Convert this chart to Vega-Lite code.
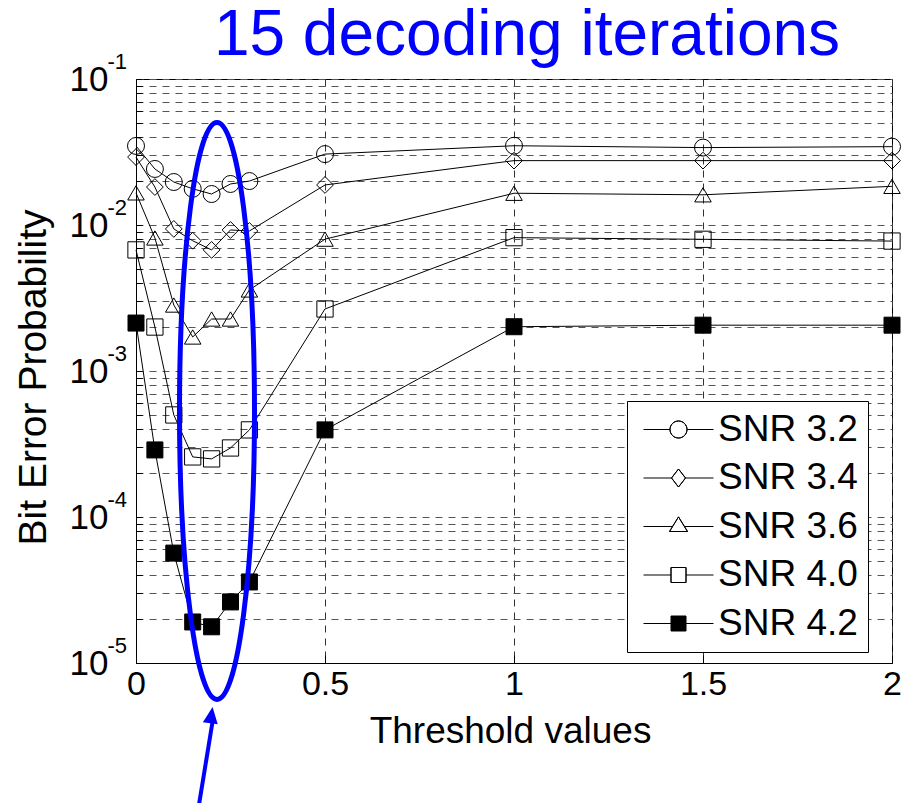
{
  "$schema": "https://vega.github.io/schema/vega-lite/v6.json",
  "width": 756,
  "height": 584,
  "autosize": {"type": "none"},
  "padding": {"left": 136, "top": 79, "right": 10, "bottom": 140},
  "background": "white",
  "config": {
    "view": {"stroke": "black", "strokeWidth": 1},
    "font": "Liberation Sans"
  },
  "title": {
    "text": "15 decoding iterations",
    "color": "#0000FF",
    "fontSize": 64,
    "font": "Liberation Sans",
    "fontWeight": "normal",
    "anchor": "middle",
    "offset": 8,
    "dy": 25,
    "dx": 13
  },
  "resolve": {"scale": {"shape": "independent"}},
  "datasets": {
    "ber": [
      {"series": "SNR 3.2", "x": 0, "y": 0.0348},
      {"series": "SNR 3.2", "x": 0.05, "y": 0.0242},
      {"series": "SNR 3.2", "x": 0.1, "y": 0.0197},
      {"series": "SNR 3.2", "x": 0.15, "y": 0.0177},
      {"series": "SNR 3.2", "x": 0.2, "y": 0.0163},
      {"series": "SNR 3.2", "x": 0.25, "y": 0.0191},
      {"series": "SNR 3.2", "x": 0.3, "y": 0.02},
      {"series": "SNR 3.2", "x": 0.5, "y": 0.0306},
      {"series": "SNR 3.2", "x": 1, "y": 0.0349},
      {"series": "SNR 3.2", "x": 1.5, "y": 0.0339},
      {"series": "SNR 3.2", "x": 2, "y": 0.0344},
      {"series": "SNR 3.4", "x": 0, "y": 0.0292},
      {"series": "SNR 3.4", "x": 0.05, "y": 0.0182},
      {"series": "SNR 3.4", "x": 0.1, "y": 0.0094},
      {"series": "SNR 3.4", "x": 0.15, "y": 0.0078},
      {"series": "SNR 3.4", "x": 0.2, "y": 0.00675},
      {"series": "SNR 3.4", "x": 0.25, "y": 0.00925},
      {"series": "SNR 3.4", "x": 0.3, "y": 0.0091},
      {"series": "SNR 3.4", "x": 0.5, "y": 0.0188},
      {"series": "SNR 3.4", "x": 1, "y": 0.0276},
      {"series": "SNR 3.4", "x": 1.5, "y": 0.0276},
      {"series": "SNR 3.4", "x": 2, "y": 0.0276},
      {"series": "SNR 3.6", "x": 0, "y": 0.0166},
      {"series": "SNR 3.6", "x": 0.05, "y": 0.00815},
      {"series": "SNR 3.6", "x": 0.1, "y": 0.00283},
      {"series": "SNR 3.6", "x": 0.15, "y": 0.00171},
      {"series": "SNR 3.6", "x": 0.2, "y": 0.00227},
      {"series": "SNR 3.6", "x": 0.25, "y": 0.00227},
      {"series": "SNR 3.6", "x": 0.3, "y": 0.00359},
      {"series": "SNR 3.6", "x": 0.5, "y": 0.008},
      {"series": "SNR 3.6", "x": 1, "y": 0.0165},
      {"series": "SNR 3.6", "x": 1.5, "y": 0.0161},
      {"series": "SNR 3.6", "x": 2, "y": 0.0184},
      {"series": "SNR 4.0", "x": 0, "y": 0.00675},
      {"series": "SNR 4.0", "x": 0.05, "y": 0.002},
      {"series": "SNR 4.0", "x": 0.1, "y": 0.0005},
      {"series": "SNR 4.0", "x": 0.15, "y": 0.000258},
      {"series": "SNR 4.0", "x": 0.2, "y": 0.00025},
      {"series": "SNR 4.0", "x": 0.25, "y": 0.000297},
      {"series": "SNR 4.0", "x": 0.3, "y": 0.000395},
      {"series": "SNR 4.0", "x": 0.5, "y": 0.00266},
      {"series": "SNR 4.0", "x": 1, "y": 0.00819},
      {"series": "SNR 4.0", "x": 1.5, "y": 0.00798},
      {"series": "SNR 4.0", "x": 2, "y": 0.00776},
      {"series": "SNR 4.2", "x": 0, "y": 0.00213},
      {"series": "SNR 4.2", "x": 0.05, "y": 0.000288},
      {"series": "SNR 4.2", "x": 0.1, "y": 0.0000566},
      {"series": "SNR 4.2", "x": 0.15, "y": 0.0000191},
      {"series": "SNR 4.2", "x": 0.2, "y": 0.0000177},
      {"series": "SNR 4.2", "x": 0.25, "y": 0.0000262},
      {"series": "SNR 4.2", "x": 0.3, "y": 0.0000359},
      {"series": "SNR 4.2", "x": 0.5, "y": 0.000395},
      {"series": "SNR 4.2", "x": 1, "y": 0.00201},
      {"series": "SNR 4.2", "x": 1.5, "y": 0.00206},
      {"series": "SNR 4.2", "x": 2, "y": 0.00206}
    ],
    "exponents": [
      {"x": 0, "y": 0.1, "exp": "-1"},
      {"x": 0, "y": 0.01, "exp": "-2"},
      {"x": 0, "y": 0.001, "exp": "-3"},
      {"x": 0, "y": 0.0001, "exp": "-4"},
      {"x": 0, "y": 0.00001, "exp": "-5"}
    ],
    "ellipse": [{"x": 0.2143, "y": 0.000532}],
    "arrow": [{"x": 0.1622, "y": 0.00000091, "x2": 0.2032, "y2": 0.00000407}],
    "arrowhead": [{"x": 0.2026, "y": 0.000005}]
  },
  "layer": [
    {
      "data": {"name": "ber"},
      "mark": {"type": "line", "color": "black", "strokeWidth": 1},
      "encoding": {
        "x": {
          "field": "x", "type": "quantitative",
          "scale": {"domain": [0, 2], "nice": false, "zero": false},
          "axis": {
            "values": [0, 0.5, 1, 1.5, 2],
            "labelExpr": "datum.value == 0 ? '0' : format(datum.value, '~g')",
            "title": "Threshold values",
            "titleFontSize": 37,
            "titleFontWeight": "normal",
            "titleColor": "black",
            "titleFont": "Liberation Sans",
            "titleX": 374,
            "titleY": 79,
            "titleBaseline": "alphabetic",
            "titleAlign": "center",
            "labelFontSize": 34,
            "labelFont": "Liberation Sans",
            "labelColor": "black",
            "labelPadding": 12,
            "labelFlush": false,
            "labelOverlap": false,
            "grid": true,
            "gridDash": [7, 6],
            "gridColor": "#333333",
            "gridWidth": 1,
            "gridOpacity": 1,
            "domainColor": "black",
            "tickColor": "black",
            "tickSize": -8
          }
        },
        "y": {
          "field": "y", "type": "quantitative",
          "scale": {"type": "log", "domain": [0.00001, 0.1], "nice": false},
          "axis": {
            "values": [0.00001, 0.00002, 0.00003, 0.00004, 0.00005, 0.00006, 0.00007, 0.00008, 0.00009,
                       0.0001, 0.0002, 0.0003, 0.0004, 0.0005, 0.0006, 0.0007, 0.0008, 0.0009,
                       0.001, 0.002, 0.003, 0.004, 0.005, 0.006, 0.007, 0.008, 0.009,
                       0.01, 0.02, 0.03, 0.04, 0.05, 0.06, 0.07, 0.08, 0.09, 0.1],
            "labelExpr": "(datum.value == 0.1 || datum.value == 0.01 || datum.value == 0.001 || datum.value == 0.0001 || datum.value == 0.00001) ? '10' : ''",
            "title": "Bit Error Probability",
            "titleFontSize": 39,
            "titleFontWeight": "normal",
            "titleColor": "black",
            "titleFont": "Liberation Sans",
            "titleAngle": -90,
            "titleX": -91,
            "titleY": 298,
            "titleAlign": "center",
            "titleBaseline": "alphabetic",
            "labelFontSize": 35,
            "labelFont": "Liberation Sans",
            "labelColor": "black",
            "labelPadding": 34,
            "labelFlush": false,
            "labelOverlap": false,
            "labelBaseline": "middle",
            "grid": true,
            "gridDash": [7, 6],
            "gridColor": "#555555",
            "gridWidth": 1,
            "gridOpacity": 1,
            "domainColor": "black",
            "tickColor": "black",
            "tickSize": -6
          }
        },
        "detail": {"field": "series", "type": "nominal"}
      }
    },
    {
      "data": {"name": "exponents"},
      "mark": {"type": "text", "align": "right", "baseline": "middle", "dx": -9, "dy": -17, "fontSize": 22, "font": "Liberation Sans", "color": "black"},
      "encoding": {
        "x": {"field": "x", "type": "quantitative"},
        "y": {"field": "y", "type": "quantitative"},
        "text": {"field": "exp"}
      }
    },
    {
      "data": {"name": "ber"},
      "mark": {"type": "point", "stroke": "black", "strokeWidth": 1, "opacity": 1},
      "encoding": {
        "x": {"field": "x", "type": "quantitative"},
        "y": {"field": "y", "type": "quantitative"},
        "shape": {
          "field": "series", "type": "nominal",
          "scale": {
            "domain": ["SNR 3.2", "SNR 3.4", "SNR 3.6", "SNR 4.0", "SNR 4.2"],
            "range": ["circle", "diamond", "triangle-up", "square", "square"]
          },
          "legend": null
        },
        "fill": {
          "field": "series", "type": "nominal",
          "scale": {
            "range": ["transparent", "transparent", "transparent", "transparent", "black"]
          },
          "legend": null
        },
        "size": {
          "field": "series", "type": "nominal",
          "scale": {
            "range": [289, 256, 324, 210, 225]
          },
          "legend": null
        }
      }
    },
    {
      "data": {"name": "ber"},
      "mark": {"type": "point", "filled": false, "color": "black", "stroke": "black", "opacity": 0},
      "encoding": {
        "x": {"field": "x", "type": "quantitative"},
        "y": {"field": "y", "type": "quantitative"},
        "shape": {
          "field": "series", "type": "nominal",
          "scale": {
            "domain": ["SNR 3.2", "SNR 3.4", "SNR 3.6", "SNR 4.0", "SNR 4.2"],
            "range": [
              "M-8.75,0L-2.125,0M2.125,0L8.75,0M-2.125,0C-2.125,-1.1737 -1.1737,-2.125 0,-2.125C1.1737,-2.125 2.125,-1.1737 2.125,0C2.125,1.1737 1.1737,2.125 0,2.125C-1.1737,2.125 -2.125,1.1737 -2.125,0ZM-2.125,0C-2.125,1.1737 -1.1737,2.125 0,2.125C1.1737,2.125 2.125,1.1737 2.125,0C2.125,-1.1737 1.1737,-2.125 0,-2.125C-1.1737,-2.125 -2.125,-1.1737 -2.125,0Z",
              "M-8.75,0L-1.75,0M1.75,0L8.75,0M-1.75,0L0,-2.25L1.75,0L0,2.25ZM-1.75,0L0,2.25L1.75,0L0,-2.25Z",
              "M-8.75,0L-1.48,0M1.48,0L8.75,0M0,-2.4L2.25,1.25L-2.25,1.25ZM0,-2.4L-2.25,1.25L2.25,1.25Z",
              "M-8.75,0L-1.875,0M1.875,0L8.75,0M-1.875,-1.875L1.875,-1.875L1.875,1.875L-1.875,1.875ZM-1.875,-1.875L-1.875,1.875L1.875,1.875L1.875,-1.875Z",
              "M-8.75,0L8.75,0M-1.875,-1.875L1.875,-1.875L1.875,1.875L-1.875,1.875ZM-1.875,-1.75L1.875,-1.75M-1.875,-1.625L1.875,-1.625M-1.875,-1.5L1.875,-1.5M-1.875,-1.375L1.875,-1.375M-1.875,-1.25L1.875,-1.25M-1.875,-1.125L1.875,-1.125M-1.875,-1L1.875,-1M-1.875,-0.875L1.875,-0.875M-1.875,-0.75L1.875,-0.75M-1.875,-0.625L1.875,-0.625M-1.875,-0.5L1.875,-0.5M-1.875,-0.375L1.875,-0.375M-1.875,-0.25L1.875,-0.25M-1.875,-0.125L1.875,-0.125M-1.875,0.125L1.875,0.125M-1.875,0.25L1.875,0.25M-1.875,0.375L1.875,0.375M-1.875,0.5L1.875,0.5M-1.875,0.625L1.875,0.625M-1.875,0.75L1.875,0.75M-1.875,0.875L1.875,0.875M-1.875,1L1.875,1M-1.875,1.125L1.875,1.125M-1.875,1.25L1.875,1.25M-1.875,1.375L1.875,1.375M-1.875,1.5L1.875,1.5M-1.875,1.625L1.875,1.625M-1.875,1.75L1.875,1.75"
            ]
          },
          "legend": {
            "title": null,
            "orient": "none",
            "legendX": 491,
            "legendY": 322,
            "padding": 10,
            "strokeColor": "black",
            "fillColor": "white",
            "cornerRadius": 0,
            "labelFontSize": 37,
            "labelFont": "Liberation Sans",
            "labelColor": "black",
            "labelLimit": 400,
            "symbolSize": 64,
            "symbolOffset": 23,
            "labelOffset": 21,
            "rowPadding": 10.5,
            "symbolOpacity": 1,
            "symbolStrokeColor": "black",
            "symbolStrokeWidth": 1
          }
        }
      }
    },
    {
      "data": {"name": "ellipse"},
      "mark": {
        "type": "point",
        "shape": "M0,-1C0.0718,-1 0.13,-0.5523 0.13,0C0.13,0.5523 0.0718,1 0,1C-0.0718,1 -0.13,0.5523 -0.13,0C-0.13,-0.5523 -0.0718,-1 0,-1Z",
        "size": 332929,
        "filled": false,
        "stroke": "#0000FF",
        "strokeWidth": 5,
        "opacity": 1
      },
      "encoding": {
        "x": {"field": "x", "type": "quantitative"},
        "y": {"field": "y", "type": "quantitative"}
      }
    },
    {
      "data": {"name": "arrow"},
      "mark": {"type": "rule", "color": "#0000FF", "strokeWidth": 4},
      "encoding": {
        "x": {"field": "x", "type": "quantitative"},
        "y": {"field": "y", "type": "quantitative"},
        "x2": {"field": "x2"},
        "y2": {"field": "y2"}
      }
    },
    {
      "data": {"name": "arrowhead"},
      "mark": {
        "type": "point",
        "shape": "M0,0L-1,2.2L1,2.2Z",
        "size": 225,
        "angle": 8,
        "filled": true,
        "color": "#0000FF",
        "opacity": 1
      },
      "encoding": {
        "x": {"field": "x", "type": "quantitative"},
        "y": {"field": "y", "type": "quantitative"}
      }
    }
  ]
}
